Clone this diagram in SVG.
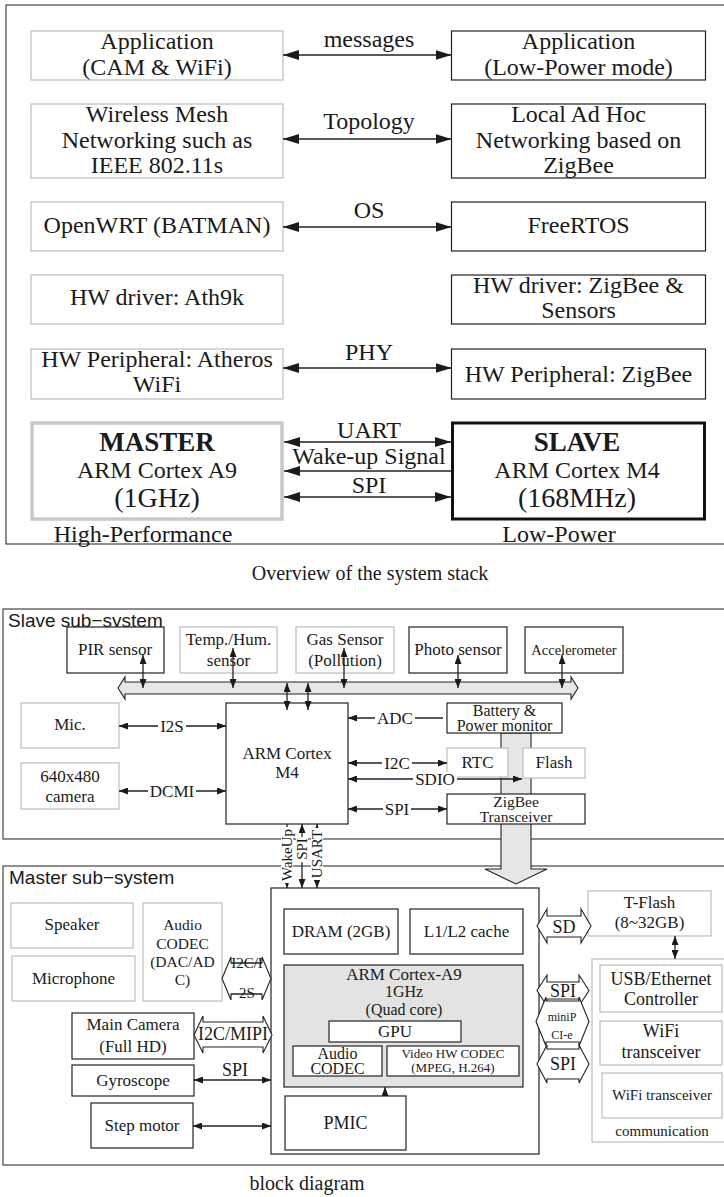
<svg xmlns="http://www.w3.org/2000/svg" width="724" height="1197" viewBox="0 0 724 1197">
<defs>
<marker id="ah" markerUnits="userSpaceOnUse" markerWidth="16" markerHeight="10" refX="16" refY="5" orient="auto-start-reverse"><path d="M0,0 L16,5 L0,10 z" fill="#1a1a1a"/></marker>
<marker id="sh" markerUnits="userSpaceOnUse" markerWidth="9" markerHeight="7" refX="9" refY="3.5" orient="auto-start-reverse"><path d="M0,0 L9,3.5 L0,7 z" fill="#1a1a1a"/></marker>
</defs>
<style>
text{font-family:"Liberation Serif","Times New Roman",serif;fill:#1a1a1a;text-anchor:middle}
.t24{font-size:24px}
.t28{font-size:28px}
.b27{font-size:27px;font-weight:bold}
.t20{font-size:20px}
.t18{font-size:18px}
.t17{font-size:17px}
.t16{font-size:16px}
.t15{font-size:15px}
.t13{font-size:13px}
.t12{font-size:12px}
.sans{font-family:"Liberation Sans",Arial,sans-serif;font-size:19px;text-anchor:start}
.frame{fill:none;stroke:#444;stroke-width:1.2}
.g{fill:#fff;stroke:#bdbdbd;stroke-width:1.2}
.k{fill:#fff;stroke:#222;stroke-width:1.2}
.gray{fill:#e3e3e3;stroke:#222;stroke-width:1.2}
.c{stroke:#222;stroke-width:1.3;fill:none}
.cb{marker-start:url(#ah);marker-end:url(#ah)}
.ce{marker-end:url(#ah)}
.sb{marker-start:url(#sh);marker-end:url(#sh)}
.se{marker-end:url(#sh)}
.hollow{fill:#fff;stroke:#222;stroke-width:1.1}
.bus{fill:#e6e6e6;stroke:#222;stroke-width:1.1}
.bg{fill:#fff;stroke:none}
</style>

<!-- ===== Overview of the system stack ===== -->
<rect class="frame" x="6" y="5" width="740" height="539"/>

<g id="app-cam"><rect class="g" x="31" y="31" width="252" height="49"/><text class="t24" x="157" y="49">Application</text><text class="t24" x="157" y="75">(CAM &amp; WiFi)</text></g>
<g id="app-lp"><rect class="k" x="451.5" y="31" width="254" height="49"/><text class="t24" x="578.5" y="49">Application</text><text class="t24" x="578.5" y="75">(Low-Power mode)</text></g>
<g id="mesh"><rect class="g" x="31" y="104" width="252" height="74"/><text class="t24" x="157" y="122">Wireless Mesh</text><text class="t24" x="157" y="148">Networking such as</text><text class="t24" x="157" y="173">IEEE 802.11s</text></g>
<g id="adhoc"><rect class="k" x="451.5" y="104" width="254" height="74"/><text class="t24" x="578.5" y="122">Local Ad Hoc</text><text class="t24" x="578.5" y="148">Networking based on</text><text class="t24" x="578.5" y="173">ZigBee</text></g>
<g id="openwrt"><rect class="g" x="31" y="202" width="252" height="49"/><text class="t24" x="157" y="233">OpenWRT (BATMAN)</text></g>
<g id="freertos"><rect class="k" x="451.5" y="202" width="254" height="49"/><text class="t24" x="578.5" y="233">FreeRTOS</text></g>
<g id="ath9k"><rect class="g" x="31" y="275" width="252" height="49"/><text class="t24" x="157" y="305">HW driver: Ath9k</text></g>
<g id="zb-driver"><rect class="k" x="451.5" y="275" width="254" height="49"/><text class="t24" x="578.5" y="293">HW driver: ZigBee &amp;</text><text class="t24" x="578.5" y="318">Sensors</text></g>
<g id="atheros"><rect class="g" x="31" y="349" width="252" height="50"/><text class="t24" x="157" y="367">HW Peripheral: Atheros</text><text class="t24" x="157" y="392">WiFi</text></g>
<g id="zb-phy"><rect class="k" x="451.5" y="349" width="254" height="50"/><text class="t24" x="578.5" y="382">HW Peripheral: ZigBee</text></g>
<g id="master"><rect x="32" y="423" width="250" height="96" fill="#fff" stroke="#c8c8c8" stroke-width="3.5"/><text class="b27" x="157" y="451">MASTER</text><text class="t24" x="157" y="478">ARM Cortex A9</text><text class="t28" x="157" y="507">(1GHz)</text></g>
<g id="slave"><rect x="452.5" y="423" width="252" height="96" fill="#fff" stroke="#111" stroke-width="3"/><text class="b27" x="577" y="451">SLAVE</text><text class="t24" x="577" y="478">ARM Cortex M4</text><text class="t28" x="577" y="507">(168MHz)</text></g>

<g id="top-connectors">
<line class="c cb" x1="283" y1="55" x2="451.5" y2="55"/><text class="t24" x="369" y="47">messages</text>
<line class="c cb" x1="283" y1="139" x2="451.5" y2="139"/><text class="t24" x="369" y="129">Topology</text>
<line class="c cb" x1="283" y1="227" x2="451.5" y2="227"/><text class="t24" x="369" y="218">OS</text>
<line class="c cb" x1="283" y1="368" x2="451.5" y2="368"/><text class="t24" x="369" y="360">PHY</text>
<line class="c cb" x1="284" y1="442" x2="451" y2="442"/><text class="t24" x="369" y="438">UART</text>
<line class="c ce" x1="451" y1="471" x2="284" y2="471"/><text class="t24" x="369" y="464">Wake-up Signal</text>
<line class="c cb" x1="284" y1="497" x2="451" y2="497"/><text class="t24" x="369" y="493">SPI</text>
</g>
<text class="t24" x="143" y="542">High-Performance</text>
<text class="t24" x="559" y="542">Low-Power</text>
<text class="t20" x="370" y="580">Overview of the system stack</text>

<!-- ===== Block diagram ===== -->
<rect class="frame" x="3" y="609" width="740" height="230"/>
<rect class="frame" x="3" y="866" width="740" height="299"/>
<text class="sans" x="8" y="627">Slave sub−system</text>
<text class="sans" x="9" y="884">Master sub−system</text>

<g id="under-connectors">
<polygon class="bus" points="118,688 125,677 125,682 571,682 571,677 578,688 571,699 571,694 125,694 125,699"/>
<polygon class="bus" points="501,733 531,733 531,869 547,869 516,884 485,869 501,869"/>
</g>

<!-- slave nodes -->
<g id="pir"><rect class="k" x="67" y="627" width="97" height="46"/><text class="t17" x="115" y="655">PIR sensor</text></g>
<g id="temp"><rect class="g" x="180" y="627" width="97" height="46"/><text class="t17" x="228.5" y="645">Temp./Hum.</text><text class="t17" x="228.5" y="666">sensor</text></g>
<g id="gas"><rect class="g" x="296" y="627" width="98" height="46"/><text class="t17" x="345" y="645">Gas Sensor</text><text class="t17" x="345" y="666">(Pollution)</text></g>
<g id="photo"><rect class="k" x="409" y="627" width="98" height="46"/><text class="t17" x="458" y="655">Photo sensor</text></g>
<g id="accel"><rect class="k" x="525" y="627" width="98" height="46"/><text x="574" y="655" style="font-size:14.5px">Accelerometer</text></g>
<g id="mic"><rect class="g" x="21" y="703" width="98" height="45"/><text class="t17" x="70" y="730">Mic.</text></g>
<g id="camera640"><rect class="g" x="21" y="763" width="98" height="46"/><text class="t17" x="70" y="782">640x480</text><text class="t17" x="70" y="802">camera</text></g>
<g id="m4"><rect class="k" x="226" y="703" width="122" height="121"/><text class="t17" x="287" y="759">ARM Cortex</text><text class="t17" x="287" y="778">M4</text></g>
<g id="battery"><rect class="k" x="447" y="703" width="115" height="30"/><text class="t16" x="504.5" y="716">Battery &amp;</text><text class="t16" x="504.5" y="731">Power monitor</text></g>
<g id="rtc"><rect class="g" x="447" y="748" width="61" height="29"/><text class="t17" x="477.5" y="768">RTC</text></g>
<g id="flash"><rect class="g" x="523" y="748" width="62" height="30"/><text class="t17" x="554" y="768">Flash</text></g>
<g id="zigbee"><rect class="k" x="447" y="794" width="138" height="30"/><text x="516" y="807" style="font-size:15.5px">ZigBee</text><text x="516" y="822" style="font-size:15.5px">Transceiver</text></g>

<!-- master nodes -->
<g id="speaker"><rect class="g" x="11" y="903" width="122" height="45"/><text class="t17" x="72" y="930">Speaker</text></g>
<g id="microphone"><rect class="g" x="12" y="956" width="123" height="45"/><text class="t17" x="73.5" y="984">Microphone</text></g>
<g id="audio-dac"><rect class="g" x="143" y="903" width="79" height="98"/><text x="182.5" y="930" style="font-size:15.5px">Audio</text><text x="182.5" y="949" style="font-size:15.5px">CODEC</text><text x="182.5" y="967" style="font-size:15.5px">(DAC/AD</text><text x="182.5" y="985" style="font-size:15.5px">C)</text></g>
<g id="a9-system"><rect class="k" x="271" y="888" width="268" height="266"/></g>
<g id="dram"><rect class="k" x="284" y="909" width="114" height="45"/><text class="t17" x="341" y="937">DRAM (2GB)</text></g>
<g id="cache"><rect class="k" x="410" y="909" width="113" height="45"/><text class="t17" x="466.5" y="937">L1/L2 cache</text></g>
<g id="a9"><rect class="gray" x="284" y="965" width="239" height="122"/><text class="t17" x="404" y="980">ARM Cortex-A9</text><text class="t16" x="404" y="997">1GHz</text><text class="t16" x="404" y="1015">(Quad core)</text></g>
<g id="gpu"><rect class="k" x="329" y="1021" width="132" height="21"/><text class="t17" x="395" y="1037">GPU</text></g>
<g id="audio-codec"><rect class="k" x="293" y="1046" width="89" height="30"/><text class="t16" x="337.5" y="1059">Audio</text><text class="t16" x="337.5" y="1074">CODEC</text></g>
<g id="video-codec"><rect class="k" x="387" y="1046" width="132" height="30"/><text class="t13" x="453" y="1058">Video HW CODEC</text><text class="t13" x="453" y="1072">(MPEG, H.264)</text></g>
<g id="pmic"><rect class="k" x="285" y="1096" width="121" height="54"/><text class="t18" x="345.5" y="1129">PMIC</text></g>
<g id="main-camera"><rect class="k" x="72" y="1013" width="122" height="46"/><text class="t17" x="133" y="1030">Main Camera</text><text class="t17" x="133" y="1052">(Full HD)</text></g>
<g id="gyro"><rect class="k" x="72" y="1065" width="122" height="31"/><text class="t17" x="133" y="1086">Gyroscope</text></g>
<g id="step"><rect class="k" x="91" y="1103" width="102" height="45"/><text class="t17" x="142" y="1131">Step motor</text></g>
<g id="tflash"><rect class="g" x="588" y="891" width="123" height="45"/><text class="t17" x="649.5" y="908">T-Flash</text><text class="t17" x="649.5" y="928">(8~32GB)</text></g>
<g id="communication"><rect class="g" x="592" y="959" width="140" height="183"/><text class="t15" x="662" y="1136">communication</text></g>
<g id="usb"><rect class="g" x="600" y="965" width="122" height="47"/><text class="t18" x="661" y="985">USB/Ethernet</text><text class="t18" x="661" y="1005">Controller</text></g>
<g id="wifi1"><rect class="g" x="600" y="1021" width="122" height="44"/><text class="t18" x="661" y="1037">WiFi</text><text class="t18" x="661" y="1058">transceiver</text></g>
<g id="wifi2"><rect class="g" x="602" y="1073" width="120" height="45"/><text class="t15" x="662" y="1100">WiFi transceiver</text></g>

<g id="connectors">
<!-- sensors to bus -->
<line class="c sb" x1="143" y1="655" x2="143" y2="688"/>
<line class="c sb" x1="233" y1="648" x2="233" y2="688"/>
<line class="c sb" x1="344" y1="648" x2="344" y2="688"/>
<line class="c sb" x1="458" y1="655" x2="458" y2="688"/>
<line class="c sb" x1="562" y1="655" x2="562" y2="688"/>
<!-- bus to M4 -->
<line class="c sb" x1="287" y1="683" x2="287" y2="710"/>
<line class="c sb" x1="308" y1="683" x2="308" y2="710"/>
<!-- left of M4 -->
<line class="c sb" x1="119" y1="726" x2="226" y2="726"/><rect class="bg" x="158" y="719" width="28" height="14"/><text class="t17" x="172" y="732">I2S</text>
<line class="c sb" x1="119" y1="791" x2="226" y2="791"/><rect class="bg" x="148" y="784" width="48" height="14"/><text class="t17" x="172" y="797">DCMI</text>
<!-- right of M4 -->
<line class="c se" x1="443" y1="718" x2="348" y2="718"/><rect class="bg" x="375" y="711" width="40" height="14"/><text class="t17" x="395" y="724">ADC</text>
<line class="c sb" x1="348" y1="763" x2="447" y2="763"/><rect class="bg" x="382" y="756" width="30" height="14"/><text class="t17" x="397" y="769">I2C</text>
<line class="c sb" x1="348" y1="779" x2="522" y2="779"/><rect class="bg" x="413" y="772" width="44" height="14"/><text class="t17" x="435" y="785">SDIO</text>
<line class="c sb" x1="348" y1="809" x2="447" y2="809"/><rect class="bg" x="383" y="802" width="28" height="14"/><text class="t17" x="397" y="815">SPI</text>
<!-- M4 to A9 -->
<line class="c se" x1="287" y1="824" x2="287" y2="888"/>
<line class="c sb" x1="302" y1="824" x2="302" y2="888"/>
<line class="c sb" x1="317" y1="824" x2="317" y2="888"/>
<rect class="bg" x="281" y="827" width="12" height="56"/>
<rect class="bg" x="296" y="837" width="12" height="25"/>
<rect class="bg" x="311" y="828" width="12" height="52"/>
<text class="t15" transform="translate(287,855) rotate(-90)" x="0" y="5">WakeUp</text>
<text class="t15" transform="translate(302,849) rotate(-90)" x="0" y="5">SPI</text>
<text class="t15" transform="translate(317,854) rotate(-90)" x="0" y="5">USART</text>
<!-- master left -->
<polygon class="hollow" points="222,978.5 231,957 231,963 262,963 262,957 271,978.5 262,1000 262,994 231,994 231,1000"/>
<text class="t15" x="247" y="968">I2C/I</text><text class="t15" x="247" y="998">2S</text>
<line x1="231" y1="963" x2="262" y2="963" stroke="#222" stroke-width="1"/>
<line x1="231" y1="994" x2="262" y2="994" stroke="#222" stroke-width="1"/>
<polygon class="hollow" points="194,1035 203,1016 203,1022 263,1022 263,1016 272,1035 263,1053 263,1047 203,1047 203,1053"/>
<text class="t18" x="233" y="1040">I2C/MIPI</text>
<line class="c sb" x1="194" y1="1080" x2="271" y2="1080"/><text class="t18" x="235" y="1076">SPI</text>
<line class="c sb" x1="193" y1="1126" x2="271" y2="1126"/>
<line class="c se" x1="385" y1="1096" x2="385" y2="1087"/>
<!-- master right -->
<polygon class="hollow" points="537,926 547,909 547,916 581,916 581,909 591,926 581,943 581,937 547,937 547,943"/>
<text class="t18" x="564" y="933">SD</text>
<line class="c sb" x1="675" y1="936" x2="675" y2="959"/>
<polygon class="hollow" points="537,990.5 547,975 547,982 579,982 579,975 589,990.5 579,1006 579,999 547,999 547,1006"/>
<text class="t18" x="563" y="997">SPI</text>
<polygon class="hollow" points="536,1021.5 546,997 546,1001 579,1001 579,997 589,1021.5 579,1046 579,1042 546,1042 546,1046"/>
<text class="t12" x="562" y="1021">miniP</text><text class="t12" x="562" y="1039">CI-e</text>
<polygon class="hollow" points="537,1064 547,1045 547,1049 579,1049 579,1045 589,1064 579,1083 579,1079 547,1079 547,1083"/>
<text class="t18" x="563" y="1070">SPI</text>
</g>
<text class="t20" x="307" y="1190">block diagram</text>
</svg>
